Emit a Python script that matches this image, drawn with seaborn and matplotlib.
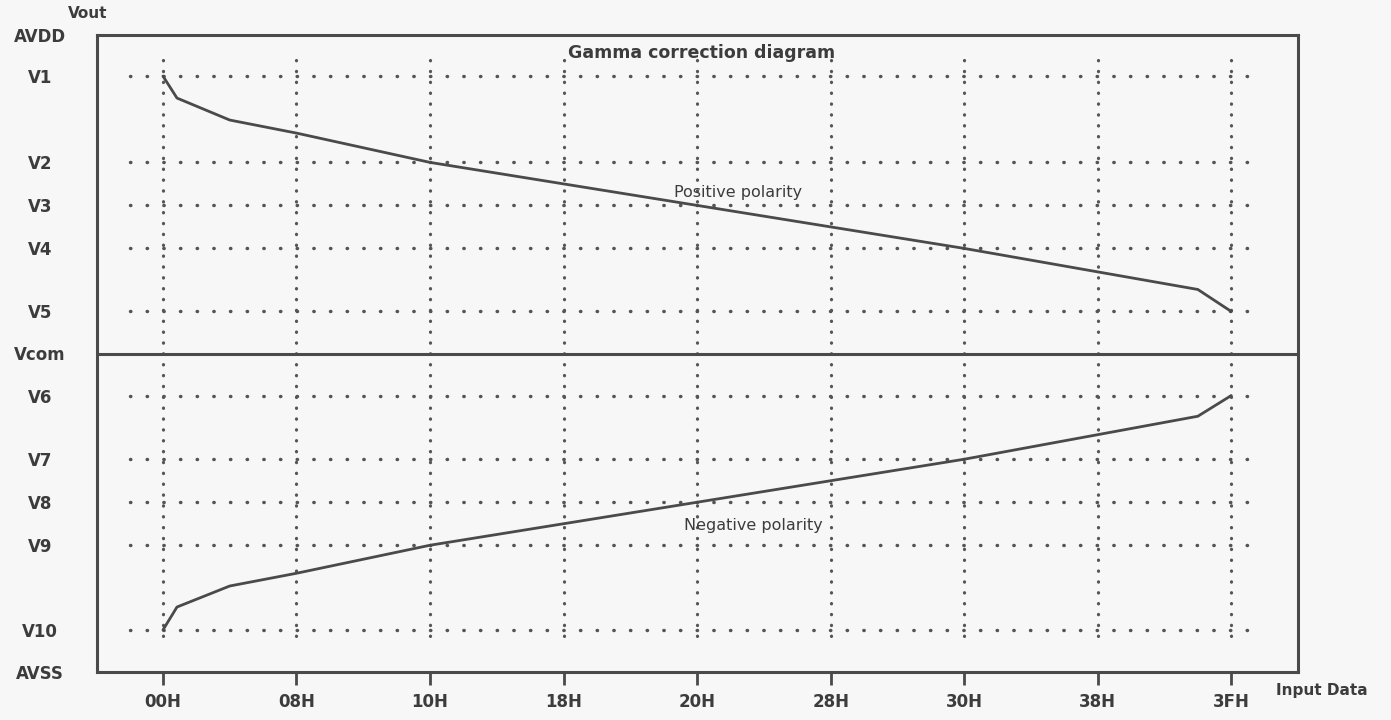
import matplotlib
matplotlib.use("Agg")
import matplotlib.pyplot as plt
import seaborn as sns
import pandas as pd

# ---- data ----
x_tick_labels = ['00H', '08H', '10H', '18H', '20H', '28H', '30H', '38H', '3FH']
x_tick_pos = [0, 1, 2, 3, 4, 5, 6, 7, 8]

level_names = ['AVDD', 'V1', 'V2', 'V3', 'V4', 'V5', 'Vcom',
               'V6', 'V7', 'V8', 'V9', 'V10', 'AVSS']
level_values = [10, 8.71, 6.0, 4.65, 3.30, 1.32, 0,
                -1.32, -3.32, -4.67, -6.02, -8.68, -10]
grid_levels = [8.71, 6.0, 4.65, 3.30, 1.32, -1.32, -3.32, -4.67, -6.02, -8.68]

pos_x = [0, 0.105, 0.5, 1, 2, 4, 6, 7.75, 8]
pos_y = [8.71, 8.02, 7.33, 6.92, 6.0, 4.65, 3.30, 2.01, 1.32]
neg_x = [0, 0.105, 0.5, 1, 2, 4, 6, 7.75, 8]
neg_y = [-8.68, -7.96, -7.30, -6.90, -6.02, -4.67, -3.32, -1.97, -1.32]

sns.set_theme(style='white')
plt.rcParams['font.family'] = ['DejaVu Sans']

TXT = '#3c3c3c'
LINE = '#4a4a4a'
BG = '#f7f7f7'

fig = plt.figure(figsize=(13.91, 7.2), dpi=100, facecolor=BG)
ax = fig.add_axes([97/1391, 48/720, (1298-97)/1391, (672-35)/720])
ax.set_facecolor(BG)

df = pd.DataFrame({
    'x': pos_x + neg_x,
    'y': pos_y + neg_y,
    'polarity': ['Positive'] * len(pos_x) + ['Negative'] * len(neg_x),
})
sns.lineplot(data=df, x='x', y='y', units='polarity', estimator=None, sort=False,
             color=LINE, linewidth=2.0, ax=ax, zorder=4)

# dotted guide lines
for lv in grid_levels:
    ax.plot([-0.25, 8.16], [lv, lv], color='#555555', linewidth=2.5,
            linestyle=(0, (0.1, 4.7)), dash_capstyle='round', zorder=2)
for xp in x_tick_pos:
    ax.plot([xp, xp], [9.2, -9.15], color='#555555', linewidth=2.3,
            linestyle=(0, (0.1, 3.3)), dash_capstyle='round', zorder=2)

# Vcom line
ax.axhline(0, color=LINE, linewidth=2.2, zorder=3)

ax.set_xlim(-0.494, 8.50)
ax.set_ylim(-10, 10)
ax.set_xticks(x_tick_pos)
ax.set_xticklabels(x_tick_labels, fontsize=12, fontweight='bold', color=TXT)
ax.set_yticks(level_values)
ax.set_yticklabels(level_names, fontsize=12, fontweight='bold', color=TXT)
ax.tick_params(axis='x', direction='out', length=9, width=2, color=LINE, pad=6,
               bottom=True)
ax.tick_params(axis='y', length=0, pad=41)
for lbl in ax.get_yticklabels():
    lbl.set_horizontalalignment('center')
ax.set_xlabel('')
ax.set_ylabel('')

for s in ax.spines.values():
    s.set_visible(True)
    s.set_color(LINE)
    s.set_linewidth(2.2)

ax.text(4.03, 9.45, 'Gamma correction diagram', ha='center', va='center',
        fontsize=12.5, fontweight='bold', color=TXT)
ax.text(4.31, 5.05, 'Positive polarity', ha='center', va='center',
        fontsize=11.5, color=TXT)
ax.text(4.42, -5.4, 'Negative polarity', ha='center', va='center',
        fontsize=11.5, color=TXT)

fig.text(88/1391, 1 - 14/720, 'Vout', ha='center', va='center',
         fontsize=11, fontweight='bold', color=TXT)
fig.text(1322/1391, 1 - 690/720, 'Input Data', ha='center', va='center',
         fontsize=11, fontweight='bold', color=TXT)

fig.savefig('out.png', dpi=100, facecolor=BG)
